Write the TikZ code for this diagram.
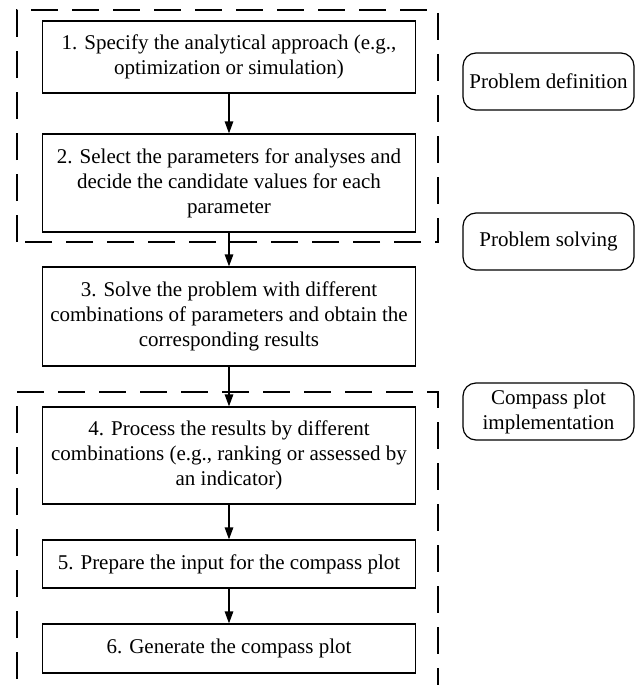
\documentclass[tikz,border=0pt]{standalone}
\usepackage{fontspec}
\setmainfont{Liberation Serif}
\usetikzlibrary{arrows.meta}

\begin{document}
\begin{tikzpicture}[x=1pt,y=-1pt,
	etape/.style={draw,line width=1.2pt,minimum width=373pt,inner sep=4pt,align=center,font=\fontsize{21}{25}\selectfont},
	phase/.style={draw,line width=1.2pt,rounded corners=13pt,minimum width=171pt,minimum height=57pt,align=center,font=\fontsize{21}{25}\selectfont},
	fleche/.style={line width=1.3pt,-{Triangle[length=12pt,width=8.5pt]}},
	cadre/.style={line width=1.9pt,dash pattern=on 27pt off 14pt}]
	\useasboundingbox (0,0) rectangle (635,685); % la page
	\clip (0,0) rectangle (635,685);
	
	% les etapes
	\node[etape,minimum height=72pt] (e1) at (229,57) {1. Specify the analytical approach (e.g.,\\optimization or simulation)};
	\node[etape,minimum height=98pt] (e2) at (229,183) {2. Select the parameters for analyses and\\decide the candidate values for each\\parameter};
	\node[etape,minimum height=99pt] (e3) at (229,316.5) {3. Solve the problem with different\\combinations of parameters and obtain the\\corresponding results};
	\node[etape,minimum height=97pt] (e4) at (229,455.5) {4. Process the results by different\\combinations (e.g., ranking or assessed by\\an indicator)};
	\node[etape,minimum height=48pt] (e5) at (229,564) {5. Prepare the input for the compass plot};
	\node[etape,minimum height=49pt] (e6) at (229,648.5) {6. Generate the compass plot};
	
	% les phases
	\node[phase] (p1) at (548.5,81.5) {Problem definition};
	\node[phase] (p2) at (548.5,241.5) {Problem solving};
	\node[phase] (p3) at (548.5,411.5) {Compass plot\\implementation};
	
	% les cadres en pointilles
	\draw[cadre] (17,242) -- (17,10) -- (438,10) -- (438,242) -- cycle;
	\draw[cadre] (17,720) -- (17,392) -- (438,392) -- (438,720);
	
	\draw[fleche] (e1) -- (e2);
	\draw[fleche] (e2) -- (e3);
	\draw[fleche] (e3) -- (e4);
	\draw[fleche] (e4) -- (e5);
	\draw[fleche] (e5) -- (e6);
\end{tikzpicture}
\end{document}
